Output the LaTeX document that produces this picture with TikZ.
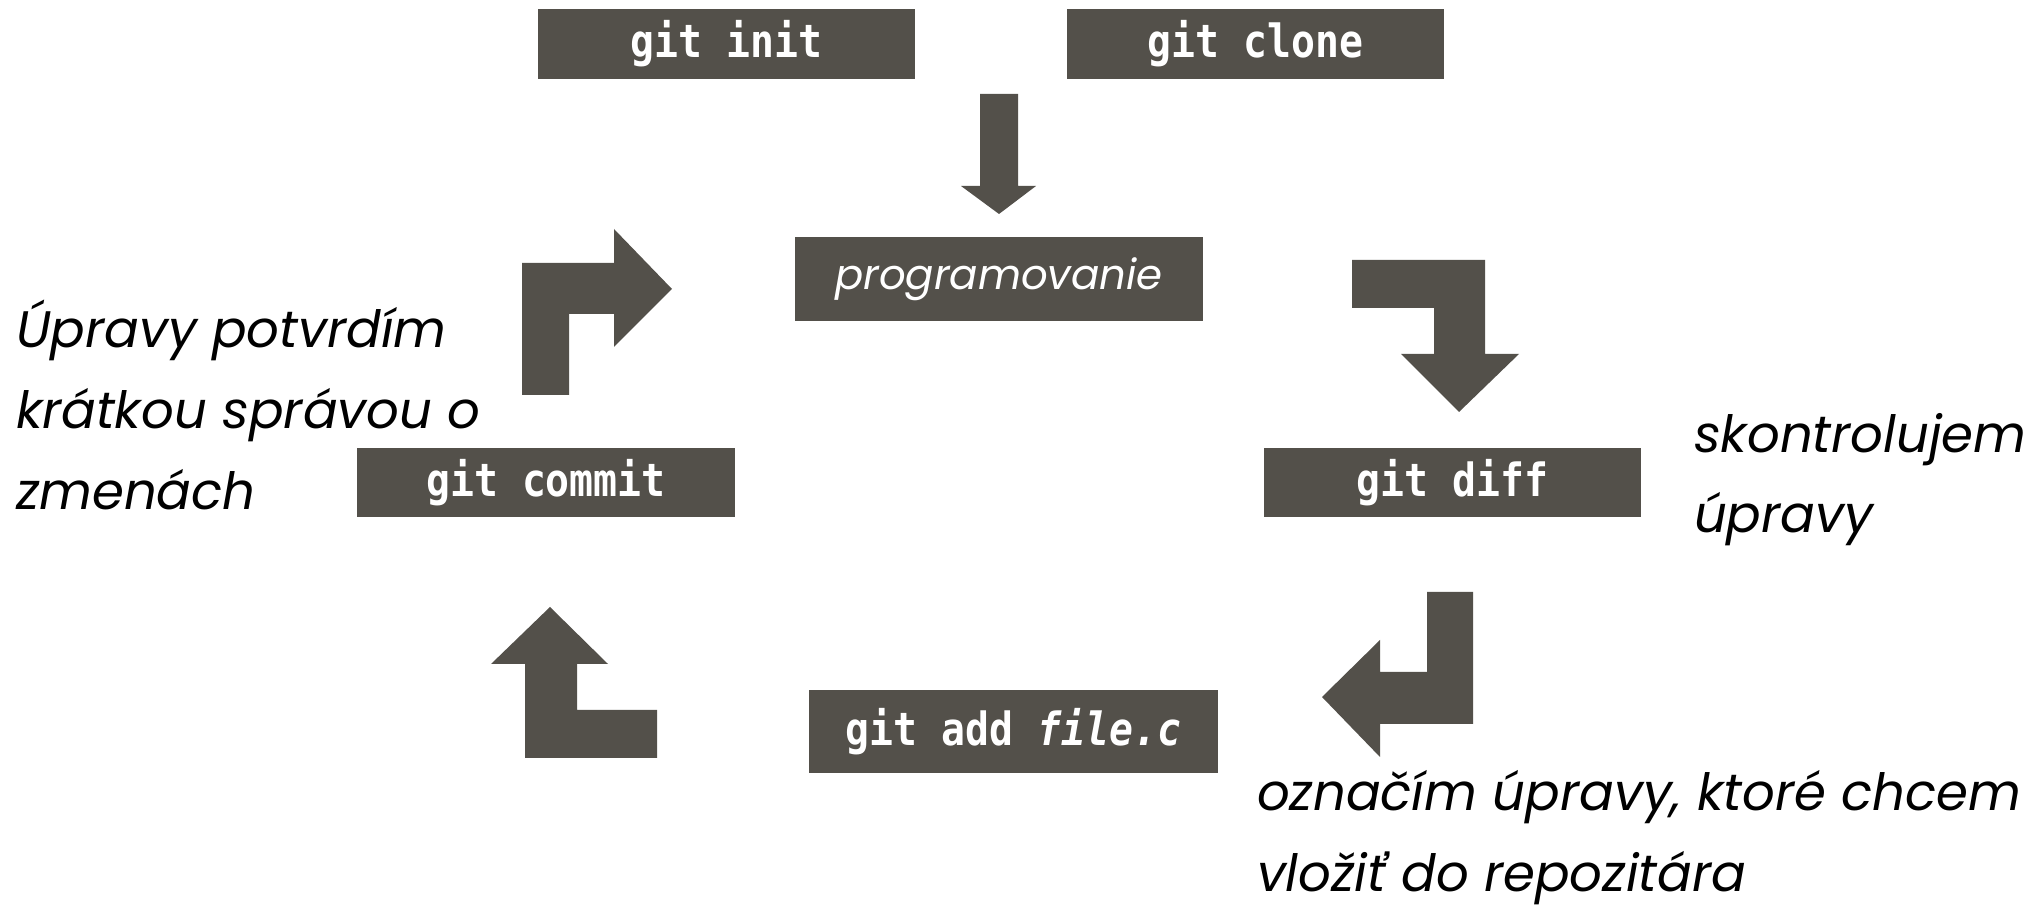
\documentclass[tikz,border=0pt]{standalone}
\usepackage{fontspec}
\setmainfont{Poppins}
\newfontfamily\codefont{DejaVu Sans Mono}[FakeStretch=0.87]
\usetikzlibrary{positioning}

\definecolor{boxgray}{RGB}{83,80,74}

\begin{document}
\begin{tikzpicture}
[x=0.01cm,y=-0.01cm,inner sep=0pt,outer sep=0pt]

  \tikzstyle{cmd}=[fill=boxgray,text=white,minimum height=0.69cm,
    font=\codefont\bfseries\fontsize{13pt}{15pt}\selectfont]
  \tikzstyle{note}=[anchor=north west,align=left,
    font=\itshape\fontsize{14.6pt}{23pt}\selectfont]
  \tikzstyle{bent}=[fill=boxgray]

  \useasboundingbox (0,0) rectangle (2032,907);

  % command boxes
  \node[cmd,minimum width=3.77cm] (init)  at (726.5,44)  {git init};
  \node[cmd,minimum width=3.77cm] (clone) at (1255.5,44) {git clone};
  \node[cmd,minimum width=4.08cm,minimum height=0.84cm,
        font=\itshape\fontsize{11.9pt}{15pt}\selectfont] (prog) at (999,279) {programovanie};
  \node[cmd,minimum width=3.78cm] (commit) at (546,482.5)  {git commit};
  \node[cmd,minimum width=3.77cm] (diff)   at (1452.5,482.5) {git diff};
  \node[cmd,minimum width=4.09cm,minimum height=0.83cm] (add) at (1013.5,731.5)
        {git add \textit{file.c}};

  % side notes
  \node[note] (commitnote) at (16,300) {Úpravy potvrdím\\krátkou správou o\\zmenách};
  \node[note] (diffnote)   at (1694,413) {skontrolujem\\úpravy};
  \node[note] (addnote)    at (1257,770) {označím úpravy, ktoré chcem\\vložiť do repozitára};

  % block arrows
  \fill[bent] (980,94) -- (1018,94) -- (1018,186) -- (1036,186) -- (999,214)
    -- (961,186) -- (980,186) -- cycle;
  \fill[bent] (522,395) -- (522,263) -- (614,263) -- (614,229) -- (672,289)
    -- (614,347) -- (614,314) -- (569,314) -- (569,395) -- cycle;
  \fill[bent] (1352,260) -- (1485,260) -- (1485,354) -- (1519,354) -- (1459,412)
    -- (1401,354) -- (1434,354) -- (1434,308) -- (1352,308) -- cycle;
  \fill[bent] (1427,592) -- (1473,592) -- (1473,724) -- (1380,724) -- (1380,757)
    -- (1322,697) -- (1380,640) -- (1380,672) -- (1427,672) -- cycle;
  \fill[bent] (550,607) -- (608,664) -- (577,664) -- (577,710) -- (657,710)
    -- (657,758) -- (525,758) -- (525,664) -- (491,664) -- cycle;
\end{tikzpicture}
\end{document}
